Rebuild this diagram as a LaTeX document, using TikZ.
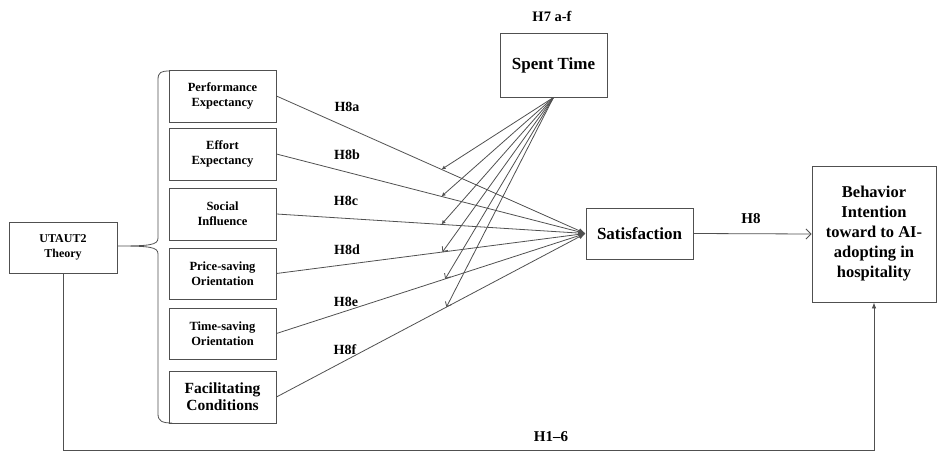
\documentclass[tikz,border=0pt]{standalone}
\usepackage{fontspec}
\setmainfont{Liberation Serif}
\usetikzlibrary{arrows.meta,calc}
\definecolor{ln}{HTML}{505050}
\tikzset{
  box/.style={draw=ln, line width=0.9pt, inner sep=0pt, align=center, font=\bfseries},
  lbox/.style={box, minimum width=107pt, minimum height=52pt, font=\bfseries\fontsize{12.5}{15}\selectfont},
  lab/.style={font=\bfseries\fontsize{14}{16}\selectfont, inner sep=0pt},
  conn/.style={draw=ln, line width=0.8pt},
  satarrow/.style={conn, -{Latex[length=7pt,width=5pt]}},
  modfill/.style={conn, -{Latex[length=4pt,width=4pt]}},
  modopen/.style={conn, -{Straight Barb[length=4pt,width=7pt]}},
}
\begin{document}
\begin{tikzpicture}[x=1pt,y=-1pt]
\useasboundingbox (0,0) rectangle (937,452);
% left column
\node[lbox] (pe) at (222.5,96) {Performance\\Expectancy};
\node[lbox] (ee) at (222.5,154) {Effort\\Expectancy};
\node[lbox] (si) at (222.5,214) {Social\\Influence};
\node[lbox, minimum height=51pt] (ps) at (222.5,273.5) {Price-saving\\Orientation};
\node[lbox, minimum height=51pt] (ts) at (222.5,333.5) {Time-saving\\Orientation};
\node[lbox, font=\bfseries\fontsize{15.5}{17}\selectfont] (fc) at (222.5,397) {Facilitating\\Conditions};
% UTAUT2
\node[box, minimum width=108pt, minimum height=51pt, font=\bfseries\fontsize{12}{15}\selectfont] (ut) at (63,247.5) {UTAUT2\\Theory};
% brace
\draw[conn] (170,71) .. controls (161,71) and (158,72) .. (158,80) -- (158,238)
  .. controls (158,245) and (150,246) .. (117,246)
  .. controls (150,246) and (158,247) .. (158,254) -- (158,414)
  .. controls (158,421) and (162,423) .. (172,423);
% spent time
\node[box, minimum width=107pt, minimum height=64pt, font=\bfseries\fontsize{17}{20}\selectfont] (sp) at (553.5,65) {Spent Time};
\node[lab, font=\bfseries\fontsize{14.5}{16}\selectfont] (h7) at (552,16) {H7 a-f};
% satisfaction
\node[box, minimum width=107pt, minimum height=51pt, font=\bfseries\fontsize{17}{20}\selectfont] (sat) at (639.5,233.5) {Satisfaction};
% behavior
\node[box, minimum width=124pt, minimum height=136pt, font=\bfseries\fontsize{16.5}{20}\selectfont] (beh) at (874,234) {Behavior\\Intention\\toward to AI-\\adopting in\\hospitality};
% paths to satisfaction
\draw[satarrow] (pe.east) -- (sat.west);
\draw[satarrow] (ee.east) -- (sat.west);
\draw[satarrow] (si.east) -- (sat.west);
\draw[satarrow] (ps.east) -- (sat.west);
\draw[satarrow] (ts.east) -- (sat.west);
\draw[satarrow] (fc.east) -- (sat.west);
% moderation points
\coordinate (m1) at ($(pe.east)!0.534!(sat.west)$);
\coordinate (m2) at ($(ee.east)!0.534!(sat.west)$);
\coordinate (m3) at ($(si.east)!0.534!(sat.west)$);
\coordinate (m4) at ($(ps.east)!0.537!(sat.west)$);
\coordinate (m5) at ($(ts.east)!0.546!(sat.west)$);
\coordinate (m6) at ($(fc.east)!0.55!(sat.west)$);
\draw[modfill] (sp.south) -- (m1);
\draw[modfill] (sp.south) -- (m2);
\draw[modfill] (sp.south) -- (m3);
\draw[modopen] (sp.south) -- (m4);
\draw[modopen] (sp.south) -- (m5);
\draw[modopen] (sp.south) -- (m6);
% labels
\node[lab] (l8a) at (347,107) {H8a};
\node[lab] (l8b) at (347,155) {H8b};
\node[lab] (l8c) at (346,201) {H8c};
\node[lab] (l8d) at (347,250) {H8d};
\node[lab] (l8e) at (346,302) {H8e};
\node[lab] (l8f) at (345,350) {H8f};
% H8
\draw[conn, -{Straight Barb[length=5pt,width=10pt]}] (sat.east) -- (beh.west);
\node[lab, font=\bfseries\fontsize{15}{16}\selectfont] (l8) at (751,219) {H8};
% H1-6
\coordinate (bot) at (0,450);
\draw[conn, -{Latex[length=6pt,width=4.5pt]}] (ut.south) |- (bot -| beh.south) -- (beh.south);
\node[lab, font=\bfseries\fontsize{15}{16}\selectfont] (l16) at (551,437) {H1--6};
\end{tikzpicture}
\end{document}
